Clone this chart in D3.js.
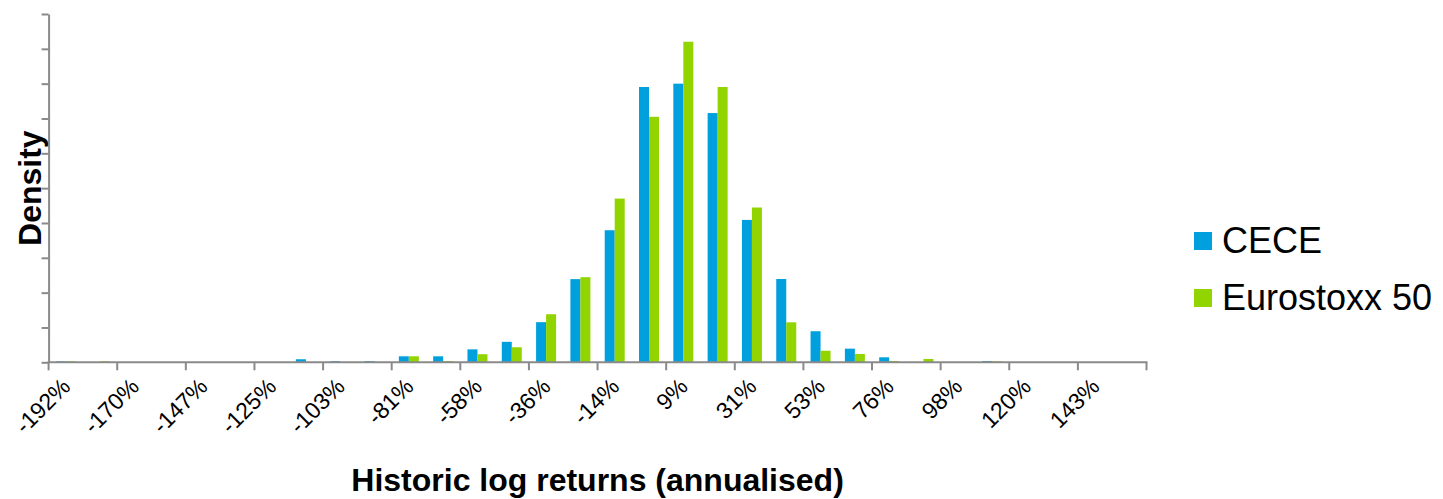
<!DOCTYPE html>
<html>
<head>
<meta charset="utf-8">
<script src="https://cdn.jsdelivr.net/npm/d3@7"></script>
<style>
  html, body { margin: 0; padding: 0; background: #fff; }
  svg { display: block; font-family: "Liberation Sans", Arial, sans-serif; }
</style>
</head>
<body>
<svg id="chart" width="1443" height="499"></svg>
<script>
// Histogram bins of annualised log returns (bin labels, every other one shown)
const categories = [
  "-192%", "-181%", "-170%", "-159%", "-147%", "-136%", "-125%", "-114%",
  "-103%", "-92%", "-81%", "-69%", "-58%", "-47%", "-36%", "-25%",
  "-14%", "-2%", "9%", "20%", "31%", "42%", "53%", "65%",
  "76%", "87%", "98%", "109%", "120%", "132%", "143%", "154%"
];

const seriesNames = ["CECE", "Eurostoxx 50"];
const seriesColors = ["#00a0de", "#92d400"];

// Relative frequency per bin
const ceceValues = [
  0.0007, 0, 0, 0, 0, 0, 0, 0.0022,
  0.0008, 0.0008, 0.0043, 0.0043, 0.0093, 0.0147, 0.0288, 0.0597,
  0.0948, 0.1976, 0.2000, 0.1789, 0.1022, 0.0598, 0.0223, 0.0098,
  0.0036, 0, 0, 0.0009, 0, 0, 0, 0
];
const eurostoxxValues = [
  0.0007, 0.0007, 0, 0, 0, 0, 0, 0,
  0, 0, 0.0043, 0.0009, 0.0058, 0.0108, 0.0345, 0.0611,
  0.1175, 0.1762, 0.2301, 0.1976, 0.1111, 0.0287, 0.0083, 0.0060,
  0.0009, 0.0024, 0, 0.0007, 0, 0, 0, 0
];

const yTicks = d3.range(0, 0.2501, 0.025);

(function draw() {
  const svg = d3.select("#chart");
  const plotLeft = 48.6, plotRight = 1146.5, plotTop = 14, plotBottom = 362.3;
  const axisColor = "#8a8a8a";

  const x0 = d3.scaleBand().domain(categories).range([plotLeft, plotRight]).paddingInner(0).paddingOuter(0);
  const x1 = d3.scaleBand().domain(seriesNames).range([0, x0.bandwidth()]).paddingInner(0).paddingOuter(0.7155);
  const y = d3.scaleLinear().domain([0, 0.25]).range([plotBottom, plotTop]);

  const rows = categories.map((c, i) => ({
    cat: c,
    vals: [ceceValues[i], eurostoxxValues[i]].map((v, k) => ({ name: seriesNames[k], value: v, color: seriesColors[k] }))
  }));

  // Bars
  const groups = svg.append("g").selectAll("g").data(rows).join("g")
    .attr("transform", d => `translate(${x0(d.cat)},0)`);
  groups.selectAll("rect").data(d => d.vals.filter(v => v.value > 0)).join("rect")
    .attr("x", d => x1(d.name))
    .attr("width", x1.bandwidth())
    .attr("y", d => y(d.value))
    .attr("height", d => plotBottom - y(d.value))
    .attr("fill", d => d.color);

  // Y axis: tick marks only
  const yAxis = svg.append("g").attr("transform", `translate(${plotLeft},0)`)
    .call(d3.axisLeft(y).tickValues(yTicks).tickSize(7).tickSizeOuter(0).tickFormat(""));
  yAxis.selectAll("path, line").attr("stroke", axisColor).attr("stroke-width", 2);

  // X axis: baseline, ticks between every second bin, rotated labels
  const xg = svg.append("g");
  xg.append("line")
    .attr("x1", plotLeft - 1).attr("x2", plotRight + 1)
    .attr("y1", plotBottom).attr("y2", plotBottom)
    .attr("stroke", axisColor).attr("stroke-width", 2);
  const tickPos = categories.filter((c, i) => i % 2 === 0).map(c => x0(c)).concat([plotRight]);
  xg.selectAll("line.tick").data(tickPos).join("line")
    .attr("class", "tick")
    .attr("x1", d => d).attr("x2", d => d)
    .attr("y1", plotBottom).attr("y2", plotBottom + 8)
    .attr("stroke", axisColor).attr("stroke-width", 2);
  xg.selectAll("text").data(categories.filter((c, i) => i % 2 === 0)).join("text")
    .attr("transform", d => `translate(${x0(d) + x0.bandwidth() / 2 + 6},388) rotate(-45)`)
    .attr("text-anchor", "end")
    .attr("font-size", 23)
    .attr("fill", "#000")
    .text(d => d);

  // Axis titles
  svg.append("text")
    .attr("x", (plotLeft + plotRight) / 2).attr("y", 491)
    .attr("text-anchor", "middle")
    .attr("font-size", 32).attr("font-weight", "bold")
    .text("Historic log returns (annualised)");
  svg.append("text")
    .attr("transform", `translate(40.5,${(plotTop + plotBottom) / 2}) rotate(-90)`)
    .attr("text-anchor", "middle")
    .attr("font-size", 32).attr("font-weight", "bold")
    .text("Density");

  // Legend
  const legend = svg.append("g").selectAll("g").data(seriesNames).join("g")
    .attr("transform", (d, i) => `translate(1194,${232 + i * 57})`);
  legend.append("rect").attr("width", 18).attr("height", 18)
    .attr("fill", (d, i) => seriesColors[i]);
  legend.append("text").attr("x", 28).attr("y", 21)
    .attr("font-size", 36).attr("fill", "#000")
    .text(d => d);
})();
</script>
</body>
</html>
